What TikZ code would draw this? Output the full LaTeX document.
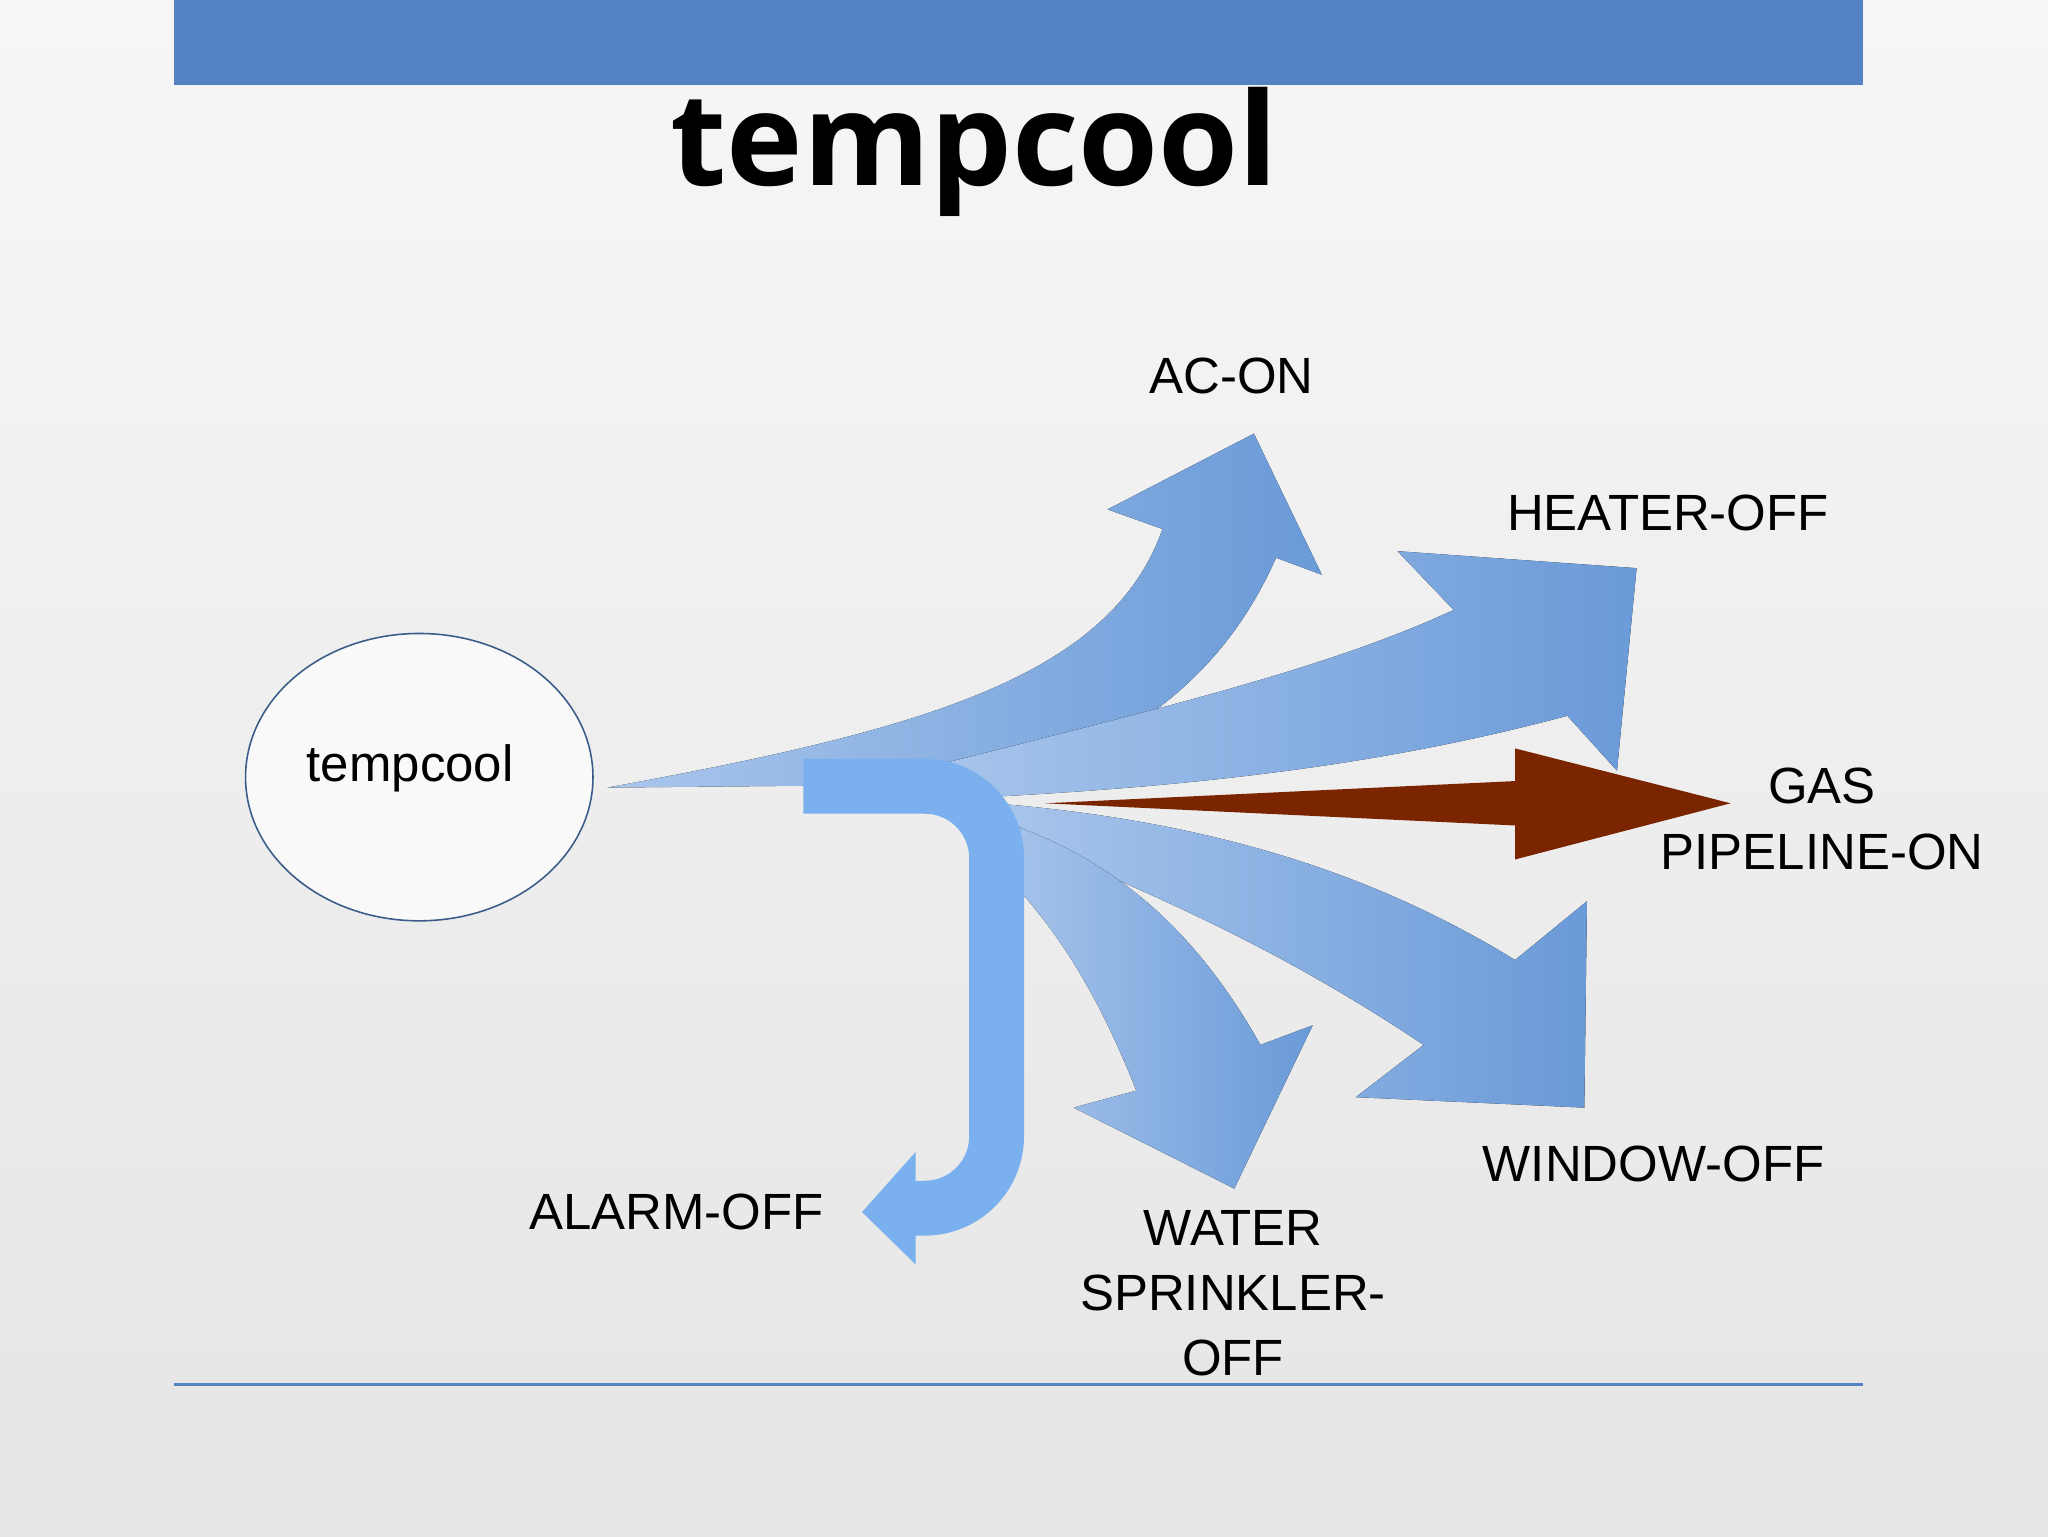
\documentclass[tikz,border=0pt]{standalone}
\usepackage{fontspec}
\setmainfont{Liberation Sans}
\newfontfamily\titlefont{Open Sans}
\definecolor{barblue}{HTML}{5383C3}
\definecolor{arrblue}{HTML}{6A9AD8}
\definecolor{lightarr}{HTML}{A9C6EC}
\definecolor{jblue}{HTML}{7AB0EE}
\definecolor{gasbrown}{HTML}{7B2500}
\tikzset{
  lbl/.style={font=\fontsize{39}{44}\selectfont, align=center, inner sep=0pt},
  fan/.style={left color=lightarr, right color=arrblue, draw=none}
}
\begin{document}
\begin{tikzpicture}[x=1pt,y=-1pt]
\useasboundingbox (0,0) rectangle (1568,1176);
\shade[top color=white!93!gray, bottom color=white!80!gray] (0,0) rectangle (1568,1176);
\fill[barblue] (133,0) rectangle (1426,65);
\draw[barblue, line width=3] (133,1060) -- (1426,1060);
\node[inner sep=0pt, font=\titlefont\bfseries\fontsize{99}{110}\selectfont] (title) at (746,116) {tempcool};
% ellipse
\draw[draw=barblue!70!black, line width=1.2, fill=white!95!gray] (321,595) ellipse [x radius=133, y radius=110];
\node[lbl] (src) at (314,588) {tempcool};
% AC-ON
\fill[fan] (465,603) .. controls (700,560) and (850,520) .. (890,405) -- (848,390) -- (960,332) -- (1012,440) -- (977,427) .. controls (940,510) and (880,560) .. (780,600) -- cycle;
% HEATER-OFF
\fill[fan] (700,590) .. controls (900,540) and (1020,510) .. (1113,467) -- (1070,422) -- (1253,435) -- (1238,590) -- (1200,548) .. controls (1080,580) and (950,600) .. (760,610) -- cycle;
% WINDOW-OFF
\fill[fan] (760,615) .. controls (950,630) and (1070,680) .. (1160,735) -- (1215,690) -- (1213,848) -- (1038,840) -- (1090,800) .. controls (1000,740) and (920,700) .. (800,650) -- cycle;
% WATER
\fill[fan] (770,630) .. controls (860,660) and (920,720) .. (965,800) -- (1005,785) -- (945,910) -- (822,848) -- (870,835) .. controls (840,760) and (810,710) .. (760,660) -- cycle;
% GAS
\fill[gasbrown] (800,615) -- (1160,598) -- (1160,573) -- (1325,615) -- (1160,658) -- (1160,632) -- cycle;
% ALARM J arrow
\draw[jblue, line width=42, rounded corners=55] (615,602) -- (763,602) -- (763,925) -- (700,925);
\fill[jblue] (701,882) -- (660,928) -- (701,968) -- cycle;
% labels
\node[lbl] (ac) at (943,288) {AC-ON};
\node[lbl] (heater) at (1277,393) {HEATER-OFF};
\node[lbl] (gas) at (1395,627) {GAS\\[6pt]PIPELINE-ON};
\node[lbl] (window) at (1266,891) {WINDOW-OFF};
\node[lbl] (water) at (944,990) {WATER\\[6pt]SPRINKLER-\\[6pt]OFF};
\node[lbl] (alarm) at (518,928) {ALARM-OFF};
\end{tikzpicture}
\end{document}
